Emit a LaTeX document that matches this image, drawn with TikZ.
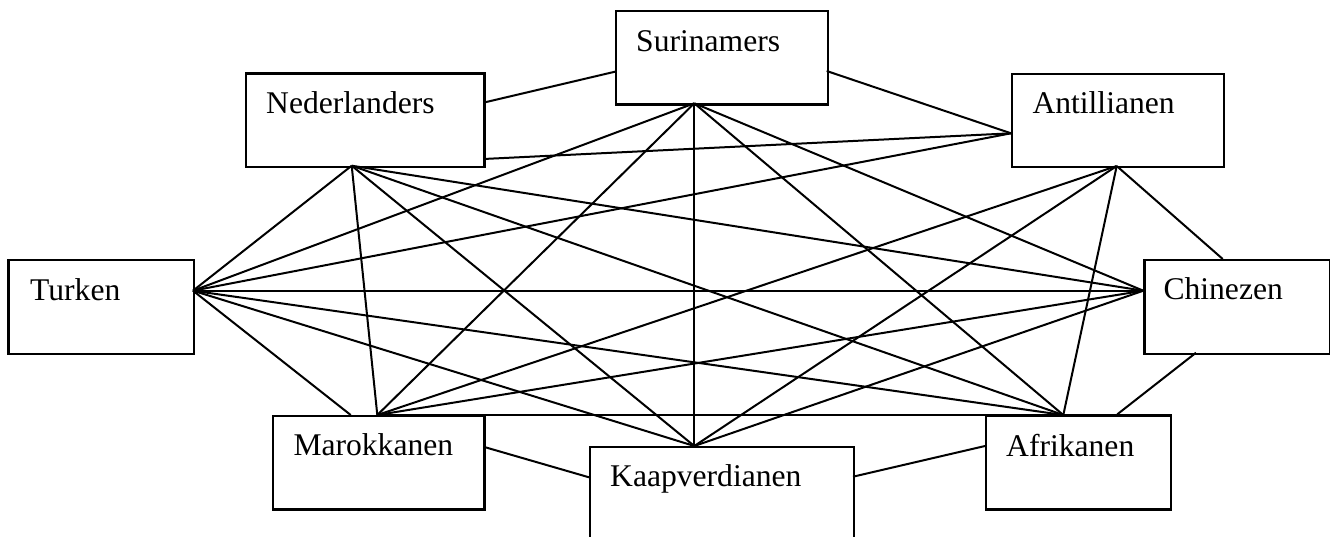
\documentclass[tikz,border=0pt]{standalone}
\usepackage{fontspec}
\setmainfont{Liberation Serif}
\tikzset{
  box/.style={draw, line width=2.3pt, rectangle, inner sep=0pt, anchor=north west},
  lbl/.style={anchor=base west, inner sep=0pt, font=\fontsize{31.6}{38}\selectfont},
  link/.style={line width=2pt},
}
\begin{document}
\begin{tikzpicture}[x=1pt,y=-1pt]
\useasboundingbox (0,0) rectangle (1330,536);
% boxes
\node[box, minimum width=211.7pt, minimum height=93.3pt] (S) at (615,10) {};
\node[box, minimum width=238.3pt, minimum height=93.4pt] (N) at (245,72.3) {};
\node[box, minimum width=212pt, minimum height=93.3pt] (A) at (1011,72.7) {};
\node[box, minimum width=185.7pt, minimum height=93.5pt] (T) at (7.3,259) {};
\node[box, minimum width=185.7pt, minimum height=93.7pt] (C) at (1143.3,259) {};
\node[box, minimum width=211.6pt, minimum height=93.3pt] (M) at (271.7,415) {};
\node[box, minimum width=264pt, minimum height=100pt] (K) at (589,446) {};
\node[box, minimum width=185pt, minimum height=94pt] (Af) at (985,414.3) {};
% labels
\node[lbl] (Sl) at (636,51.7) {Surinamers};
\node[lbl] (Nl) at (266,113) {Nederlanders};
\node[lbl] (Al) at (1032.3,113.3) {Antillianen};
\node[lbl] (Tl) at (30,300.7) {Turken};
\node[lbl] (Cl) at (1163.3,299.3) {Chinezen};
\node[lbl] (Ml) at (293.3,455.7) {Marokkanen};
\node[lbl] (Kl) at (610,486.7) {Kaapverdianen};
\node[lbl] (Afl) at (1006,456) {Afrikanen};
% ports
\coordinate (Sb) at (694.3,103.3);
\coordinate (Sw) at (615,71.7);
\coordinate (Se) at (826.7,71);
\coordinate (Nb) at (351.7,165.7);
\coordinate (Ne1) at (483.3,102.7);
\coordinate (Ne2) at (483.3,159);
\coordinate (Aw) at (1011,133.3);
\coordinate (Ab) at (1116.7,166);
\coordinate (Te) at (193,290.7);
\coordinate (Cw) at (1143.3,290.7);
\coordinate (Cn) at (1222.7,259);
\coordinate (Cs) at (1196,352.7);
\coordinate (Mn) at (377.3,415);
\coordinate (Mn2) at (350.7,415);
\coordinate (Me) at (483.3,446.7);
\coordinate (Kn) at (694.3,446);
\coordinate (Kw) at (589,477.3);
\coordinate (Ke) at (853,476.7);
\coordinate (Afn) at (1063.3,415);
\coordinate (Afn2) at (1117.3,414.3);
\coordinate (Afw) at (985,446);
% links
\draw[link] (Ne1) -- (Sw);
\draw[link] (Se) -- (Aw);
\draw[link] (Ne2) -- (Aw);
\draw[link] (Te) -- (Aw);
\draw[link] (Ab) -- (Cn);
\draw[link] (Cs) -- (Afn2);
\draw[link] (Me) -- (Kw);
\draw[link] (Ke) -- (Afw);
\draw[link] (Mn) -- (Afn);
\draw[link] (Te) -- (Cw);
% Surinamers bottom
\draw[link] (Sb) -- (Te);
\draw[link] (Sb) -- (Cw);
\draw[link] (Sb) -- (Mn);
\draw[link] (Sb) -- (Kn);
\draw[link] (Sb) -- (Afn);
% Nederlanders bottom
\draw[link] (Nb) -- (Te);
\draw[link] (Nb) -- (Cw);
\draw[link] (Nb) -- (Mn);
\draw[link] (Nb) -- (Kn);
\draw[link] (Nb) -- (Afn);
% Antillianen bottom
\draw[link] (Ab) -- (Mn);
\draw[link] (Ab) -- (Kn);
\draw[link] (Ab) -- (Afn);
% Turken
\draw[link] (Te) -- (Mn2);
\draw[link] (Te) -- (Kn);
\draw[link] (Te) -- (Afn);
% Chinezen
\draw[link] (Cw) -- (Mn);
\draw[link] (Cw) -- (Kn);
\end{tikzpicture}
\end{document}
